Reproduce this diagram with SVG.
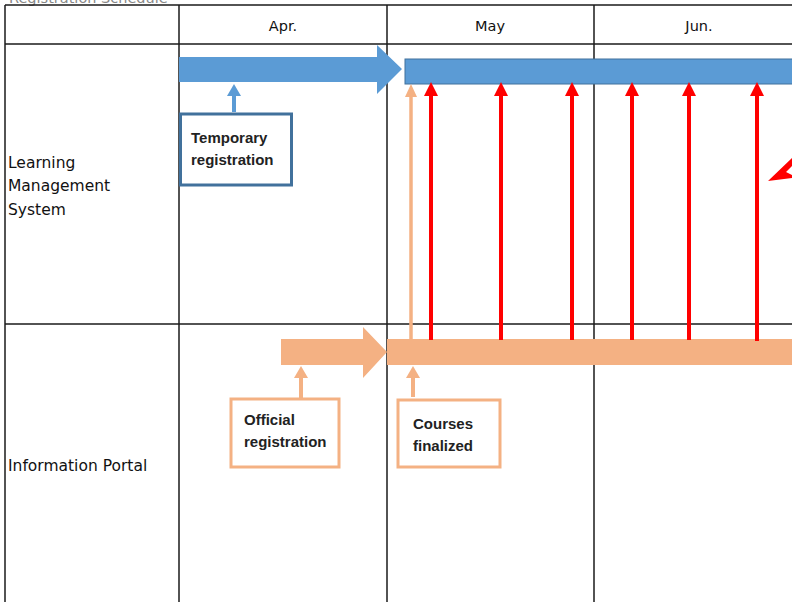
<svg xmlns="http://www.w3.org/2000/svg" width="792" height="602" viewBox="0 0 792 602">
<defs>
<style>
.grid{stroke:#1a1a1a;stroke-width:1.5;fill:none}
.hdr{font-family:"DejaVu Sans","Liberation Sans",sans-serif;font-size:14.5px;fill:#111}
.lbl{font-family:"DejaVu Sans","Liberation Sans",sans-serif;font-size:15.5px;fill:#111}
.box{font-family:"Liberation Sans","Open Sans",sans-serif;font-size:15px;font-weight:bold;fill:#222}
.red{stroke:#ff0000;stroke-width:4;fill:none}
</style>
</defs>
<rect width="792" height="602" fill="#ffffff"/>
<text x="9" y="3" class="hdr" style="fill:#888">Registration Schedule</text>
<g id="table">
<line class="grid" x1="5" y1="5" x2="792" y2="5"/>
<line class="grid" x1="5" y1="44" x2="792" y2="44"/>
<line class="grid" x1="5" y1="324" x2="792" y2="324"/>
<line class="grid" x1="5" y1="5" x2="5" y2="602"/>
<line class="grid" x1="179" y1="5" x2="179" y2="602"/>
<line class="grid" x1="387" y1="5" x2="387" y2="602"/>
<line class="grid" x1="594" y1="5" x2="594" y2="602"/>
<text class="hdr" x="283" y="31" text-anchor="middle">Apr.</text>
<text class="hdr" x="490" y="31" text-anchor="middle">May</text>
<text class="hdr" x="699" y="31" text-anchor="middle">Jun.</text>
<text class="lbl" x="8" y="168">Learning</text>
<text class="lbl" x="8" y="191">Management</text>
<text class="lbl" x="8" y="215">System</text>
<text class="lbl" x="8" y="471">Information Portal</text>
</g>
<g id="lms-arrow">
<path d="M179,57 L377,57 L377,45 L402,69 L377,94 L377,82 L179,82 Z" fill="#5b9bd5"/>
</g>
<g id="lms-bar">
<rect x="405" y="59" width="400" height="25" fill="#5b9bd5" stroke="#41719c" stroke-width="1"/>
</g>
<g id="portal-arrow">
<path d="M281,339 L363,339 L363,327 L387,352 L363,378 L363,365 L281,365 Z" fill="#f4b183"/>
</g>
<g id="portal-bar">
<rect x="387" y="339" width="410" height="26" fill="#f4b183"/>
</g>
<g id="temp-box">
<rect x="180.5" y="114" width="111" height="71" fill="#fff" stroke="#41719c" stroke-width="3"/>
<text class="box" x="191" y="143">Temporary</text>
<text class="box" x="191" y="165">registration</text>
</g>
<g id="official-box">
<rect x="231" y="399" width="108" height="68" fill="#fff" stroke="#f4b183" stroke-width="3"/>
<text class="box" x="244" y="425">Official</text>
<text class="box" x="244" y="447">registration</text>
</g>
<g id="courses-box">
<rect x="398" y="400" width="102" height="67" fill="#fff" stroke="#f4b183" stroke-width="3"/>
<text class="box" x="413" y="429">Courses</text>
<text class="box" x="413" y="451">finalized</text>
</g>
<g id="connectors">
<line x1="234" y1="112" x2="234" y2="95" stroke="#5b9bd5" stroke-width="4"/>
<path d="M227,96 L234,84 L241,96 Z" fill="#5b9bd5"/>
<line x1="301" y1="398" x2="301" y2="377" stroke="#f4b183" stroke-width="4"/>
<path d="M294,378 L301,366 L308,378 Z" fill="#f4b183"/>
<line x1="413" y1="397" x2="413" y2="377" stroke="#f4b183" stroke-width="4"/>
<path d="M406,378 L413,366 L420,378 Z" fill="#f4b183"/>
<line x1="411" y1="339" x2="411" y2="95" stroke="#f4b183" stroke-width="3.5"/>
<path d="M405,97 L411,84 L417,97 Z" fill="#f4b183"/>
<g fill="#ff0000">
<line class="red" x1="431" y1="340" x2="431" y2="94"/>
<path d="M424,96 L431,82 L438,96 Z"/>
<line class="red" x1="501" y1="340" x2="501" y2="94"/>
<path d="M494,96 L501,82 L508,96 Z"/>
<line class="red" x1="572" y1="340" x2="572" y2="94"/>
<path d="M565,96 L572,82 L579,96 Z"/>
<line class="red" x1="632" y1="340" x2="632" y2="94"/>
<path d="M625,96 L632,82 L639,96 Z"/>
<line class="red" x1="689" y1="340" x2="689" y2="94"/>
<path d="M682,96 L689,82 L696,96 Z"/>
<line class="red" x1="757" y1="341" x2="757" y2="94"/>
<path d="M750,96 L757,82 L764,96 Z"/>
<path d="M768,181 L792,158 L792,166 L786,172 L792,175 L792,178 Z"/>
</g>
</g>
</svg>
